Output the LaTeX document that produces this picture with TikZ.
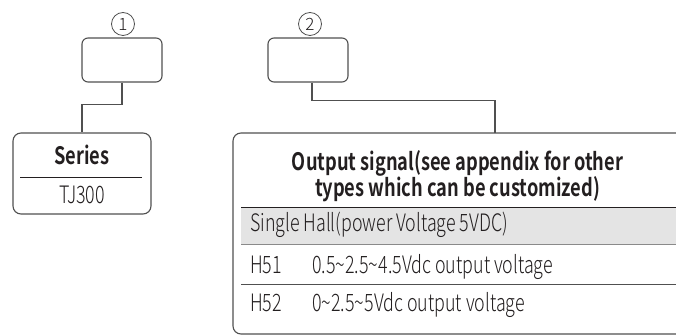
\documentclass[tikz,border=0pt]{standalone}
\usepackage{graphicx}
\usepackage{fontspec}
\setmainfont{Noto Sans CJK SC}[UprightFont={* Light}, BoldFont={* Bold}]
\definecolor{boxgray}{HTML}{505050}
\definecolor{txt}{HTML}{231F20}
\definecolor{band}{HTML}{E4E4E4}
\definecolor{bandline}{HTML}{8A8A8A}
\newlength\tmpw
\newcommand\bodyt[1]{\scalebox{\bodyxs}[1]{#1}}
\newcommand\headt[1]{\scalebox{\headxs}[1]{#1}}
\begin{document}
\settowidth\tmpw{\fontsize{24}{24}\selectfont Single Hall(power Voltage 5VDC)}%
\pgfmathsetmacro\bodyxs{258/\tmpw}%
\settowidth\tmpw{\bfseries\fontsize{24}{24}\selectfont types which can be customized)}%
\pgfmathsetmacro\headxs{285/\tmpw}%
\begin{tikzpicture}[x=1pt,y=-1pt,
  conn/.style={draw=boxgray, line width=1.1pt},
  smallbox/.style={draw=boxgray, line width=1.1pt, rounded corners=6pt, minimum width=80pt, minimum height=44pt, inner sep=0pt},
  numcirc/.style={circle, draw=boxgray, line width=0.8pt, minimum size=23pt, inner sep=0pt, text=txt, font=\fontsize{17}{17}\selectfont},
  bigbox/.style={draw=boxgray, line width=1.1pt, rounded corners=8pt, inner sep=0pt},
  head/.style={text=txt, inner sep=0pt, font=\bfseries\fontsize{24}{24}\selectfont},
  body/.style={text=txt, inner sep=0pt, font=\fontsize{24}{24}\selectfont},
  rule/.style={draw=txt, line width=0.9pt},
  tabrule/.style={draw=bandline, line width=1pt}]
\clip (0,0) rectangle (676,336);
% top small boxes and numbers
\node[numcirc] (c1) at (123,24) {1};
\node[numcirc] (c2) at (310,24) {2};
\node[smallbox] (b1) at (122,60) {};
\node[smallbox] (b2) at (308,60) {};
% Series box
\node[bigbox, minimum width=138pt, minimum height=81pt] (series) at (82,173.5) {};
\node[head, anchor=base] (st) at (82,165) {\headt{Series}};
\coordinate (sl) at (20,177);
\coordinate (sr) at (142,177);
\draw[rule] (sl) -- (sr);
\node[body, anchor=base] (sv) at (82,204) {\bodyt{TJ300}};
% Output box
\node[bigbox, minimum width=467pt, minimum height=201pt] (out) at (466.5,233.5) {};
\coordinate (j2) at (495,133);
\node[head, anchor=base] (ot1) at (457.5,171) {\headt{Output signal(see appendix for other}};
\node[head, anchor=base] (ot2) at (457.5,197) {\headt{types which can be customized)}};
% gray band
\coordinate (g1) at (241,207);
\coordinate (g2) at (700,245);
\fill[band] (g1) rectangle (g2);
\draw[draw=txt, line width=0.9pt] (g1) -- (700,207);
\draw[tabrule] (241,245) -- (g2);
\draw[tabrule, draw=boxgray] (241,284) -- (700,284);
\node[body, anchor=base west] (r0) at (250,232) {\bodyt{Single Hall(power Voltage 5VDC)}};
\node[body, anchor=base west] (r1k) at (250,273) {\bodyt{H51}};
\node[body, anchor=base west] (r1v) at (312,273) {\bodyt{0.5\textasciitilde2.5\textasciitilde4.5Vdc output voltage}};
\node[body, anchor=base west] (r2k) at (250,311) {\bodyt{H52}};
\node[body, anchor=base west] (r2v) at (312,311) {\bodyt{0\textasciitilde2.5\textasciitilde5Vdc output voltage}};
% connectors
\draw[conn] (b1.south) -- ++(0,22) -| (series.north);
\draw[conn] ([xshift=4pt]b2.south) -- ++(0,18) -| (j2);
\end{tikzpicture}
\end{document}
